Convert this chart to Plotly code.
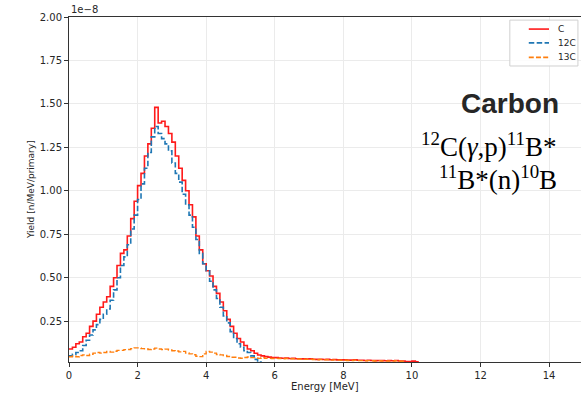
import plotly.graph_objects as go

# bin left edges [MeV], 0.1 MeV bins
energy = [round(0.1 * i, 1) for i in range(102)]

# Yields in units of 1e-8 n/MeV/primary
c_total = [0.09, 0.10, 0.12, 0.13, 0.16, 0.18, 0.22, 0.25, 0.29, 0.33,
           0.36, 0.39, 0.45, 0.50, 0.57, 0.64, 0.66, 0.74, 0.84, 0.94,
           1.03, 1.10, 1.20, 1.27, 1.36, 1.48, 1.39, 1.40, 1.37, 1.33,
           1.28, 1.20, 1.13, 1.06, 1.00, 0.92, 0.85, 0.74, 0.66, 0.58,
           0.54, 0.51, 0.45, 0.41, 0.36, 0.31, 0.26, 0.22, 0.18, 0.15,
           0.13, 0.11, 0.09, 0.08, 0.065, 0.055, 0.05, 0.046, 0.043, 0.041,
           0.040, 0.038, 0.037, 0.038, 0.035, 0.036, 0.034, 0.034, 0.033, 0.032,
           0.033, 0.031, 0.030, 0.031, 0.029, 0.030, 0.028, 0.029, 0.027, 0.027,
           0.027, 0.026, 0.026, 0.028, 0.025, 0.025, 0.024, 0.025, 0.024, 0.023,
           0.024, 0.023, 0.022, 0.023, 0.022, 0.024, 0.021, 0.021, 0.018, 0.017,
           0.020, 0.016]

c12 = [0.05, 0.06, 0.07, 0.08, 0.11, 0.14, 0.17, 0.20, 0.23, 0.26,
       0.29, 0.32, 0.37, 0.43, 0.50, 0.57, 0.62, 0.69, 0.78, 0.86,
       0.95, 1.04, 1.13, 1.22, 1.31, 1.37, 1.33, 1.30, 1.27, 1.23,
       1.16, 1.10, 1.05, 0.98, 0.92, 0.86, 0.79, 0.72, 0.64, 0.58,
       0.54, 0.48, 0.43, 0.38, 0.33, 0.28, 0.24, 0.19, 0.15, 0.12,
       0.10, 0.08, 0.07, 0.05, 0.03, 0.015, 0.01, 0.006, 0.004, 0.003,
       0.002, 0.002, 0.001, 0.001, 0.001, 0.0, 0.0, 0.0, 0.0, 0.0,
       0.0, 0.0, 0.0, 0.0, 0.0, 0.0, 0.0, 0.0, 0.0, 0.0,
       0.0, 0.0, 0.0, 0.0, 0.0, 0.0, 0.0, 0.0, 0.0, 0.0,
       0.0, 0.0, 0.0, 0.0, 0.0, 0.0, 0.0, 0.0, 0.0, 0.0,
       0.0, 0.0]

c13 = [0.045, 0.05, 0.045, 0.052, 0.056, 0.052, 0.06, 0.066, 0.07, 0.066,
       0.07, 0.075, 0.072, 0.077, 0.082, 0.082, 0.086, 0.087, 0.092, 0.096,
       0.096, 0.092, 0.091, 0.087, 0.09, 0.095, 0.09, 0.086, 0.089, 0.084,
       0.08, 0.078, 0.073, 0.076, 0.067, 0.062, 0.057, 0.048, 0.046, 0.062,
       0.076, 0.072, 0.066, 0.058, 0.056, 0.052, 0.047, 0.042, 0.042, 0.038,
       0.037, 0.041, 0.044, 0.04, 0.04, 0.036, 0.04, 0.036, 0.036, 0.035,
       0.036, 0.035, 0.034, 0.035, 0.033, 0.034, 0.032, 0.032, 0.031, 0.03,
       0.031, 0.029, 0.028, 0.029, 0.027, 0.028, 0.026, 0.027, 0.026, 0.025,
       0.025, 0.024, 0.024, 0.026, 0.023, 0.023, 0.022, 0.023, 0.022, 0.021,
       0.022, 0.021, 0.02, 0.021, 0.02, 0.022, 0.019, 0.019, 0.0, 0.0,
       0.0, 0.0]

y_ticks = [0.25, 0.50, 0.75, 1.00, 1.25, 1.50, 1.75, 2.00]
x_ticks = [0, 2, 4, 6, 8, 10, 12, 14]

series_names = ["C", "12C", "13C"]
series_colors = ["#ff1a1a", "#1f77b4", "#ff7f0e"]
series_dash = ["solid", "5.5px,2.4px", "5px,2.2px"]


def step(vals):
    xs = energy + [round(energy[-1] + 0.1, 1)]
    ys = vals + [vals[-1]]
    return xs, ys


fig = go.Figure()
for name, vals, color, dash, w in zip(series_names, [c_total, c12, c13],
                                      series_colors, series_dash, [1.6, 1.6, 1.4]):
    xs, ys = step(vals)
    fig.add_trace(go.Scatter(x=xs, y=ys, name=name, mode="lines", showlegend=False,
                             line=dict(color=color, dash=dash, width=w, shape="hv")))

font = "DejaVu Sans, sans-serif"
fig.update_layout(
    width=581, height=396,
    margin=dict(l=69, r=0, t=17, b=34, autoexpand=False),
    plot_bgcolor="white", paper_bgcolor="white",
    font=dict(family=font, size=10, color="#262626"),
    showlegend=False,
    xaxis=dict(range=[0, 14.93], tickvals=x_ticks, showgrid=True, gridcolor="#ebebeb",
               showline=True, linecolor="#333333", linewidth=1, mirror=True,
               ticks="outside", ticklen=4, tickcolor="#333333", zeroline=False,
               automargin=False, tickfont=dict(size=10)),
    yaxis=dict(range=[0.015, 2.0], tickvals=y_ticks, tickformat=".2f", showgrid=True,
               gridcolor="#ebebeb", showline=True, linecolor="#333333", linewidth=1,
               ticks="outside", ticklen=4, tickcolor="#333333", zeroline=False,
               automargin=False, tickfont=dict(size=10)),
)

# legend box (drawn manually to match compact matplotlib legend)
fig.add_shape(type="rect", xref="paper", yref="paper", x0=0.861, x1=0.994, y0=0.858, y1=0.991,
              line=dict(color="#d0d0d0", width=1), fillcolor="rgba(255,255,255,0.85)", layer="above")
leg_y = [0.965, 0.925, 0.883]
for name, color, dash, ly in zip(series_names, series_colors, series_dash, leg_y):
    fig.add_shape(type="line", xref="paper", yref="paper", x0=0.898, x1=0.9375, y0=ly, y1=ly,
                  line=dict(color=color, dash=dash, width=1.6), layer="above")
    fig.add_annotation(text=name, xref="paper", yref="paper", x=0.951, y=ly,
                       xanchor="left", yanchor="middle", showarrow=False,
                       font=dict(size=9, family=font, color="#262626"))

fig.add_annotation(text="Energy [MeV]", xref="paper", yref="paper", x=0.5, y=-0.07,
                   xanchor="center", yanchor="middle", showarrow=False,
                   font=dict(size=10, family=font, color="#262626"))
fig.add_annotation(text="Yield [n/MeV/primary]", xref="paper", yref="paper", x=-0.075, y=0.5,
                   xanchor="center", yanchor="middle", showarrow=False, textangle=-90,
                   font=dict(size=9, family=font, color="#262626"))
fig.add_annotation(text="1e\u22128", xref="paper", yref="paper", x=0, y=1.0,
                   xanchor="left", yanchor="bottom", showarrow=False,
                   font=dict(size=10, family=font, color="#262626"))
fig.add_annotation(text="<b>Carbon</b>", xref="paper", yref="paper", x=0.961, y=0.748,
                   xanchor="right", yanchor="middle", showarrow=False,
                   font=dict(size=28, family="Liberation Sans, Arial, sans-serif", color="#262626"))
fig.add_annotation(text="<sup>12</sup>C(<i>\u03b3</i>,p)<sup>11</sup>B*", xref="paper", yref="paper",
                   x=0.958, y=0.629, xanchor="right", yanchor="middle", showarrow=False,
                   font=dict(size=27, family="Liberation Serif, Times New Roman, serif", color="#000000"))
fig.add_annotation(text="<sup>11</sup>B*(n)<sup>10</sup>B", xref="paper", yref="paper",
                   x=0.958, y=0.533, xanchor="right", yanchor="middle", showarrow=False,
                   font=dict(size=27, family="Liberation Serif, Times New Roman, serif", color="#000000"))

fig.write_html("out.html", config={"displayModeBar": False},
               post_script="document.body.style.margin='0';document.body.style.overflow='hidden';")
